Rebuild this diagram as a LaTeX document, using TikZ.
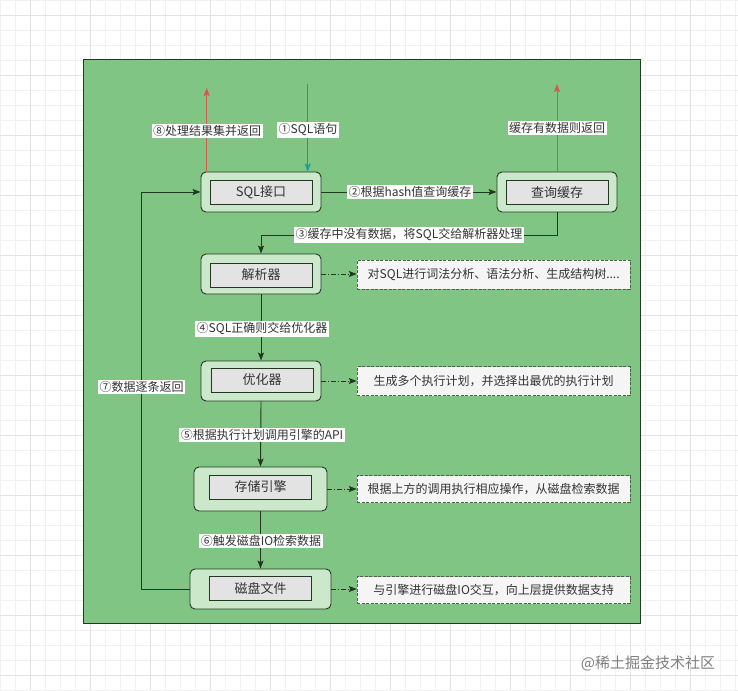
\documentclass[tikz,border=0pt]{standalone}
\usepackage{fontspec}
\setmainfont{Noto Sans CJK SC}
\usetikzlibrary{arrows.meta}
\definecolor{bggreen}{HTML}{80C583}
\definecolor{boxgreen}{HTML}{CBE8CA}
\definecolor{linedark}{HTML}{223822}
\definecolor{innergray}{HTML}{E3E3E3}
\definecolor{descfill}{HTML}{F5F5F5}
\definecolor{txt}{HTML}{333333}
\definecolor{redarrow}{HTML}{D9574F}
\definecolor{tealarrow}{HTML}{14A0A0}
\definecolor{gridminor}{HTML}{F1F1F1}
\definecolor{gridmajor}{HTML}{E3E3E3}
\tikzset{
  outerbox/.style={draw=linedark, fill=boxgreen, rounded corners=5pt, line width=0.9pt, minimum width=120pt, minimum height=40pt, inner sep=0pt},
  innerbox/.style={draw=linedark, fill=innergray, line width=0.9pt, minimum width=102pt, minimum height=24pt, inner sep=0pt, text=txt, font=\fontsize{13}{15}\selectfont},
  descbox/.style={draw=linedark!80, fill=descfill, dash pattern=on 3pt off 1.5pt, line width=0.8pt, minimum width=273pt, minimum height=28pt, inner sep=0pt, text=txt, font=\fontsize{12}{14}\selectfont},
  lbl/.style={fill=white, inner sep=1.5pt, text=txt, font=\fontsize{12}{14}\selectfont},
  conn/.style={draw=linedark, line width=0.9pt, -{Stealth[length=8pt,width=6pt,inset=1.5pt]}},
  dconn/.style={conn, dash pattern=on 5pt off 2pt on 1pt off 2pt},
  redconn/.style={draw=redarrow, line width=0.9pt, -{Stealth[length=8pt,width=6pt,inset=1.5pt]}},
  tealconn/.style={draw=tealarrow, line width=0.9pt, -{Stealth[length=8pt,width=6pt,inset=1.5pt]}},
}
\begin{document}
\begin{tikzpicture}[x=1pt,y=-1pt]
\useasboundingbox (0,0) rectangle (738,690);
\fill[white] (0,0) rectangle (738,690);
% grid
\foreach \gx in {0,15,...,735} {\draw[gridminor, line width=0.6pt] (\gx,0) -- (\gx,690);}
\foreach \gy in {0,15,...,690} {\draw[gridminor, line width=0.6pt] (0,\gy) -- (738,\gy);}
\foreach \gx in {30,90,...,730} {\draw[gridmajor, line width=0.6pt] (\gx,0) -- (\gx,690);}
\foreach \gy in {15,75,...,690} {\draw[gridmajor, line width=0.6pt] (0,\gy) -- (738,\gy);}
% green panel
\draw[fill=bggreen, draw=linedark, line width=1pt] (83,60) rectangle (640,623);

% main nodes
\node[outerbox] (sqlo) at (261,192) {};
\node[innerbox] (sql) at (261,192.5) {SQL接口};
\node[outerbox] (cacheo) at (557,192) {};
\node[innerbox] (cache) at (557,192.5) {查询缓存};
\node[outerbox] (parseo) at (261,274) {};
\node[innerbox] (parse) at (261,275) {解析器};
\node[outerbox] (opto) at (261,381) {};
\node[innerbox] (opt) at (262,380) {优化器};
\node[outerbox, minimum width=133pt, minimum height=44pt] (engo) at (260.5,489) {};
\node[innerbox] (eng) at (260.5,487) {存储引擎};
\node[outerbox, minimum width=141pt] (disko) at (260.5,589) {};
\node[innerbox] (disk) at (260.5,588.5) {磁盘文件};

% description boxes
\node[descbox, minimum height=29pt] (d1) at (493.7,274.7) {对SQL进行词法分析、语法分析、生成结构树....};
\node[descbox, minimum height=29pt] (d2) at (493.7,381) {生成多个执行计划，并选择出最优的执行计划};
\node[descbox, minimum height=27pt] (d3) at (493.7,489) {根据上方的调用执行相应操作，从磁盘检索数据};
\node[descbox, minimum height=27pt] (d4) at (493.7,590) {与引擎进行磁盘IO交互，向上层提供数据支持};

% free ends
\coordinate (in1) at (307.7,84);
\coordinate (out8) at (206.7,88);
\coordinate (outc) at (557,84);
\coordinate (j3) at (0,235);
\coordinate (j7) at (141.7,0);

% connectors
\draw[tealconn] (in1) -- (in1 |- sqlo.north);
\draw[redconn] (out8 |- sqlo.north) -- (out8);
\draw[redconn] (cacheo.north) -- (outc);
\draw[conn] (sqlo.east) -- (cacheo.west);
\draw[conn] (cacheo.south) -- (cacheo.south |- j3) -| (parseo.north);
\draw[conn] (parseo.south) -- (opto.north);
\draw[conn] (opto.south) -- (engo.north);
\draw[conn] (engo.south) -- (disko.north);
\draw[conn] (disko.west) -- (j7 |- disko.west) -- (j7 |- sqlo.west) -- (sqlo.west);
\draw[dconn] (parseo.east) -- (d1.west |- parseo.east);
\draw[dconn] (opto.east) -- (d2.west |- opto.east);
\draw[dconn] (engo.east) -- (d3.west |- engo.east);
\draw[dconn] (disko.east) -- (d4.west |- disko.east);

% labels
\node[lbl] (l1) at (308,130) {①SQL语句};
\node[lbl] (l8) at (207,131) {⑧处理结果集并返回};
\node[lbl] (lc) at (557,128) {缓存有数据则返回};
\node[lbl] (l2) at (410,192) {②根据hash值查询缓存};
\node[lbl] (l3) at (409,235) {③缓存中没有数据，将SQL交给解析器处理};
\node[lbl] (l4) at (262,329) {④SQL正确则交给优化器};
\node[lbl] (l5) at (262,435) {⑤根据执行计划调用引擎的API};
\node[lbl] (l6) at (261,541) {⑥触发磁盘IO检索数据};
\node[lbl] (l7) at (141.7,387) {⑦数据逐条返回};

% watermark
\node[text=black!50, font=\fontsize{15}{17}\selectfont, inner sep=0pt] (wm) at (648,663) {@稀土掘金技术社区};
\end{tikzpicture}
\end{document}
